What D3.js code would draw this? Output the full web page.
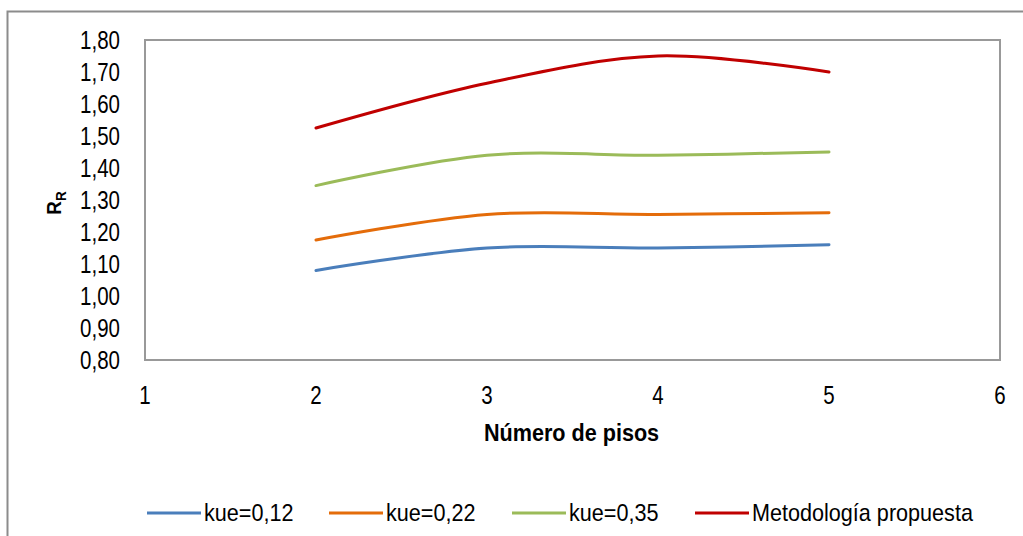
<!DOCTYPE html>
<html>
<head>
<meta charset="utf-8">
<script src="https://cdn.jsdelivr.net/npm/d3@7"></script>
<style>
  body { margin: 0; background: #fff; }
  svg { display: block; font-family: "Liberation Sans", Arial, sans-serif; }
</style>
</head>
<body>
<div id="chart"></div>
<script>
// number of floors on the x axis
const pisos = [2, 3, 4, 5];
const kue012 = [1.08, 1.15, 1.15, 1.16];
const kue022 = [1.175, 1.255, 1.255, 1.26];
const kue035 = [1.345, 1.44, 1.44, 1.45];
const metodologia = [1.525, 1.665, 1.75, 1.70];

const seriesNames = ["kue=0,12", "kue=0,22", "kue=0,35", "Metodología propuesta"];
const seriesColors = ["#4A7EBB", "#E46C0A", "#9BBB59", "#C00000"];
const seriesValues = [kue012, kue022, kue035, metodologia];

const yTicks = [0.8, 0.9, 1.0, 1.1, 1.2, 1.3, 1.4, 1.5, 1.6, 1.7, 1.8];
const xTicks = [1, 2, 3, 4, 5, 6];

const width = 1023, height = 536;
const plot = { left: 145, top: 40, right: 1000, bottom: 360 };
const narrow = 0.84; // no Arial Narrow here, so squeeze Liberation Sans

const svg = d3.select("#chart").append("svg")
    .attr("width", width)
    .attr("height", height);

// outer chart frame
svg.append("rect")
    .attr("x", 7.5).attr("y", 11.5)
    .attr("width", width + 10).attr("height", height + 10)
    .attr("fill", "#fff")
    .attr("stroke", "#8c8c8c")
    .attr("stroke-width", 2);

const x = d3.scaleLinear().domain([1, 6]).range([plot.left, plot.right]);
const y = d3.scaleLinear().domain([0.8, 1.8]).range([plot.bottom, plot.top]);

// plot area border
svg.append("rect")
    .attr("x", plot.left).attr("y", plot.top)
    .attr("width", plot.right - plot.left)
    .attr("height", plot.bottom - plot.top)
    .attr("fill", "none")
    .attr("stroke", "#999")
    .attr("stroke-width", 2);

const fmt = d => d3.format(".2f")(d).replace(".", ",");

svg.append("g").selectAll("text")
    .data(yTicks)
    .enter()
    .append("text")
    .attr("transform", d => `translate(120,${y(d)}) scale(0.82,1)`)
    .attr("dy", "0.35em")
    .attr("text-anchor", "end")
    .attr("font-size", "25px")
    .attr("fill", "#000")
    .text(fmt);

svg.append("g").selectAll("text")
    .data(xTicks)
    .enter()
    .append("text")
    .attr("transform", d => `translate(${x(d)},395) scale(0.82,1)`)
    .attr("dy", "0.35em")
    .attr("text-anchor", "middle")
    .attr("font-size", "25px")
    .attr("fill", "#000")
    .text(d => d);

// axis titles
svg.append("text")
    .attr("transform", `translate(${(plot.left + plot.right) / 2 - 1},433) scale(0.9,1)`)
    .attr("dy", "0.35em")
    .attr("text-anchor", "middle")
    .attr("font-size", "24px")
    .attr("font-weight", "bold")
    .text("Número de pisos");

const yTitle = svg.append("text")
    .attr("transform", "translate(61,203) rotate(-90) scale(0.9,1)")
    .attr("text-anchor", "middle")
    .attr("font-size", "21px")
    .attr("font-weight", "bold");
yTitle.append("tspan").text("R");
yTitle.append("tspan").attr("font-size", "15px").attr("dy", "5").text("R");

// series lines, smoothed like the original
const line = d3.line()
    .x((d, i) => x(pisos[i]))
    .y(d => y(d))
    .curve(d3.curveCatmullRom.alpha(0.5));

svg.append("g").selectAll("path")
    .data(seriesValues)
    .enter()
    .append("path")
    .attr("d", line)
    .attr("fill", "none")
    .attr("stroke", (d, i) => seriesColors[i])
    .attr("stroke-width", 3)
    .attr("stroke-linecap", "round");

// legend
const legendX = [147, 329, 512, 695];
const legend = svg.append("g").selectAll("g")
    .data(seriesNames)
    .enter()
    .append("g")
    .attr("transform", (d, i) => `translate(${legendX[i]},513)`);

legend.append("line")
    .attr("x1", 0).attr("x2", 54)
    .attr("stroke", (d, i) => seriesColors[i])
    .attr("stroke-width", 3);

legend.append("text")
    .attr("transform", "translate(57,0) scale(0.9,1)")
    .attr("dy", "0.35em")
    .attr("font-size", "24px")
    .text(d => d);
</script>
</body>
</html>
